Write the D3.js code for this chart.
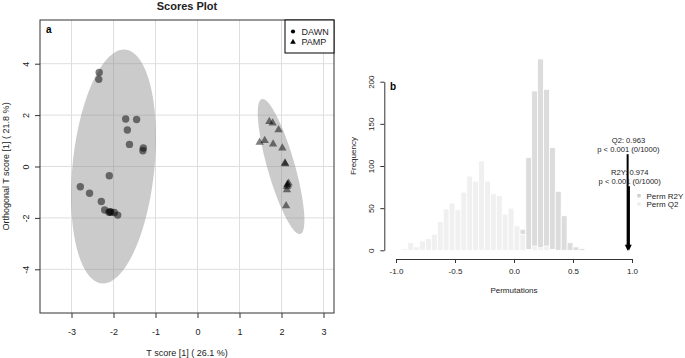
<!DOCTYPE html>
<html>
<head>
<meta charset="utf-8">
<script src="https://cdn.jsdelivr.net/npm/d3@7"></script>
<style>
  body { margin: 0; background: #fff; }
  svg { display: block; font-family: 'Liberation Sans', Arial, sans-serif; }
</style>
</head>
<body>
<div id="chart"></div>
<script>
/* global d3 */

// ---- panel a: scores ----
const groups = ['DAWN', 'PAMP'];
const dawnT = [-2.34, -2.35, -1.71, -1.45, -1.67, -1.62, -1.29, -1.30, -2.10, -2.79, -2.57, -2.29, -2.21, -2.11, -2.06, -1.98, -1.90, -2.08];
const dawnOrtho = [3.66, 3.39, 1.85, 1.83, 1.42, 0.86, 0.72, 0.61, -0.36, -0.79, -1.04, -1.36, -1.69, -1.78, -1.78, -1.79, -1.89, -1.76];
const pampT = [1.71, 1.79, 1.93, 1.48, 1.60, 1.80, 2.02, 2.08, 2.09, 2.14, 2.17, 2.13, 2.15, 2.13, 2.11];
const pampOrtho = [1.75, 1.69, 1.43, 0.94, 1.01, 0.87, 0.72, 0.13, 0.10, -0.69, -0.65, -0.78, -0.72, -0.91, -1.53];
// confidence ellipses: centre and covariance (sxx, sxy, syy)
const ellipseCentres = [[-2.0, 0.0], [1.99, 0.0]];
const ellipseCovs = [[1.02, 1.14, 20.7], [0.308, -1.157, 6.9]];
const scoreTicksX = [-3, -2, -1, 0, 1, 2, 3];
const scoreTicksY = [-4, -2, 0, 2, 4];

// ---- panel b: permutation histogram ----
const q2Bins = [-0.95, -0.90, -0.85, -0.80, -0.75, -0.70, -0.65, -0.60, -0.55, -0.50, -0.45, -0.40, -0.35, -0.30, -0.25, -0.20, -0.15, -0.10, -0.05, 0.00, 0.05, 0.10, 0.15, 0.20, 0.25, 0.30];
const q2Counts = [2, 9, 4, 11, 14, 19, 34, 49, 56, 48, 69, 88, 82, 106, 82, 67, 65, 43, 50, 29, 19, 1, 5, 3, 5, 1];
const r2yBins = [0.00, 0.05, 0.10, 0.15, 0.20, 0.25, 0.30, 0.35, 0.40, 0.45, 0.50, 0.55];
const r2yCounts = [3, 25, 110, 189, 227, 191, 122, 70, 41, 9, 4, 2];
const binWidth = 0.05;
const permTicksX = [-1.0, -0.5, 0.0, 0.5, 1.0];
const permTicksY = [0, 50, 100, 150, 200];
const statNames = ['Q2', 'R2Y'];
const statValues = [0.963, 0.974];
const statArrowTop = [114, 76];
const permLegend = ['Perm R2Y', 'Perm Q2'];

const AXIS = '#333';
const TEXT = '#222';

const svg = d3.select('#chart').append('svg').attr('width', 685).attr('height', 358);

// ================= panel a =================
const xA = d3.scaleLinear().domain([-3.75, 3.25]).range([40, 334]);
const yA = d3.scaleLinear().domain([-5.7, 5.7]).range([313, 20]);
const $a = svg.append('g').attr('class', 'panel-a');

svg.append('text')
  .attr('x', (xA.range()[0] + xA.range()[1]) / 2)
  .attr('y', 10)
  .attr('text-anchor', 'middle')
  .style('font-size', '11px')
  .style('font-weight', 'bold')
  .attr('fill', TEXT)
  .text('Scores Plot');

// grid
$a.append('g').selectAll('line')
  .data(scoreTicksX)
  .join('line')
  .attr('x1', d => xA(d)).attr('x2', d => xA(d))
  .attr('y1', yA.range()[0]).attr('y2', yA.range()[1])
  .attr('stroke', '#dedede');
$a.append('g').selectAll('line')
  .data(scoreTicksY)
  .join('line')
  .attr('y1', d => yA(d)).attr('y2', d => yA(d))
  .attr('x1', xA.range()[0]).attr('x2', xA.range()[1])
  .attr('stroke', '#dedede');

function ellipsePath(c, cov) {
  const [sxx, sxy, syy] = cov;
  const l11 = Math.sqrt(sxx);
  const l21 = sxy / l11;
  const l22 = Math.sqrt(syy - l21 * l21);
  const pts = d3.range(0, 360, 3).map(deg => {
    const t = (deg * Math.PI) / 180;
    return [c[0] + l11 * Math.cos(t), c[1] + l21 * Math.cos(t) + l22 * Math.sin(t)];
  });
  return d3.line().x(p => xA(p[0])).y(p => yA(p[1])).curve(d3.curveLinearClosed)(pts);
}

$a.append('g').selectAll('path')
  .data(groups)
  .join('path')
  .attr('d', (d, i) => ellipsePath(ellipseCentres[i], ellipseCovs[i]))
  .attr('fill', 'rgb(140,140,140)')
  .attr('fill-opacity', 0.45);

// points
$a.append('g').selectAll('circle')
  .data(dawnT)
  .join('circle')
  .attr('cx', d => xA(d))
  .attr('cy', (d, i) => yA(dawnOrtho[i]))
  .attr('r', 3.7)
  .attr('fill', '#000')
  .attr('fill-opacity', 0.5);

const tri = d3.symbol(d3.symbolTriangle, 30);
$a.append('g').selectAll('path')
  .data(pampT)
  .join('path')
  .attr('d', tri)
  .attr('transform', (d, i) => `translate(${xA(d)},${yA(pampOrtho[i])})`)
  .attr('fill', '#000')
  .attr('fill-opacity', 0.5);

// box
$a.append('rect')
  .attr('x', xA.range()[0]).attr('y', yA.range()[1])
  .attr('width', xA.range()[1] - xA.range()[0])
  .attr('height', yA.range()[0] - yA.range()[1])
  .attr('fill', 'none')
  .attr('stroke', AXIS);

// axes
const axisAX = $a.append('g')
  .attr('transform', `translate(0,${yA.range()[0]})`)
  .call(d3.axisBottom(xA).tickValues(scoreTicksX).tickSize(5).tickSizeOuter(0).tickFormat(d => String(d)));
axisAX.select('.domain').remove();
axisAX.selectAll('line').attr('stroke', AXIS);
axisAX.selectAll('text')
  .attr('y', 22).attr('dy', 0)
  .attr('fill', TEXT)
  .style('font-size', '9px');

const axisAY = $a.append('g')
  .attr('transform', `translate(${xA.range()[0]},0)`)
  .call(d3.axisLeft(yA).tickValues(scoreTicksY).tickSize(5).tickSizeOuter(0).tickFormat(d => String(d)));
axisAY.select('.domain').remove();
axisAY.selectAll('line').attr('stroke', AXIS);
axisAY.selectAll('text')
  .attr('x', 0).attr('dy', 0).attr('y', 0)
  .attr('text-anchor', 'middle')
  .attr('transform', 'translate(-11.5,0) rotate(-90)')
  .attr('fill', TEXT)
  .style('font-size', '9px');

$a.append('text')
  .attr('x', (xA.range()[0] + xA.range()[1]) / 2)
  .attr('y', 356)
  .attr('text-anchor', 'middle')
  .attr('fill', TEXT)
  .style('font-size', '9px')
  .text('T score [1] ( 26.1 %)');

$a.append('text')
  .attr('transform', `translate(8.5,${yA(0)}) rotate(-90)`)
  .attr('text-anchor', 'middle')
  .attr('fill', TEXT)
  .style('font-size', '9px')
  .text('Orthogonal T score [1] ( 21.8 %)');

$a.append('text')
  .attr('x', 46).attr('y', 33)
  .style('font-size', '10px')
  .style('font-weight', 'bold')
  .attr('fill', '#000')
  .text('a');

// legend
const $legA = $a.append('g').attr('transform', `translate(${xA.range()[1] - 49},${yA.range()[1]})`);
$legA.append('rect')
  .attr('width', 49).attr('height', 33)
  .attr('fill', '#fff')
  .attr('stroke', '#000');
const $legItem = $legA.selectAll('g')
  .data(groups)
  .join('g')
  .attr('transform', (d, i) => `translate(8,${11.5 + i * 10.5})`);
$legItem.append('path')
  .attr('d', (d, i) => (i === 0 ? d3.symbol(d3.symbolCircle, 14)() : d3.symbol(d3.symbolTriangle, 14)()))
  .attr('fill', '#000');
$legItem.append('text')
  .attr('x', 8.5).attr('y', 3.3)
  .attr('fill', TEXT)
  .style('font-size', '9px')
  .text(d => d);

// ================= panel b =================
const xB = d3.scaleLinear().domain([-1, 1]).range([396, 632]);
const yB = d3.scaleLinear().domain([0, 200]).range([250.3, 81.7]);
const $b = svg.append('g').attr('class', 'panel-b');

$b.append('g').selectAll('rect')
  .data(r2yBins)
  .join('rect')
  .attr('x', d => xB(d))
  .attr('width', xB(binWidth) - xB(0))
  .attr('y', (d, i) => yB(r2yCounts[i]))
  .attr('height', (d, i) => yB(0) - yB(r2yCounts[i]))
  .attr('fill', '#dcdcdc')
  .attr('stroke', '#fff')
  .attr('stroke-width', 0.8);

$b.append('g').selectAll('rect')
  .data(q2Bins)
  .join('rect')
  .attr('x', d => xB(d))
  .attr('width', xB(binWidth) - xB(0))
  .attr('y', (d, i) => yB(q2Counts[i]))
  .attr('height', (d, i) => yB(0) - yB(q2Counts[i]))
  .attr('fill', '#f0f0f0')
  .attr('stroke', '#fff')
  .attr('stroke-width', 0.8);

// axes
const axisBX = $b.append('g')
  .attr('transform', 'translate(0,259)')
  .call(d3.axisBottom(xB).tickValues(permTicksX).tickSize(4).tickSizeOuter(0).tickFormat(d => d.toFixed(1)));
axisBX.select('.domain').attr('stroke', AXIS);
axisBX.selectAll('line').attr('stroke', AXIS);
axisBX.selectAll('text')
  .attr('y', 15).attr('dy', 0)
  .attr('fill', TEXT)
  .style('font-size', '8px');

const axisBY = $b.append('g')
  .attr('transform', 'translate(384.3,0)')
  .call(d3.axisLeft(yB).tickValues(permTicksY).tickSize(4).tickSizeOuter(0).tickFormat(d => String(d)));
axisBY.select('.domain').attr('stroke', AXIS);
axisBY.selectAll('line').attr('stroke', AXIS);
axisBY.selectAll('text')
  .attr('x', 0).attr('dy', 0).attr('y', 0)
  .attr('text-anchor', 'middle')
  .attr('transform', 'translate(-10.3,0) rotate(-90)')
  .attr('fill', TEXT)
  .style('font-size', '8px');

$b.append('text')
  .attr('x', xB(0)).attr('y', 293)
  .attr('text-anchor', 'middle')
  .attr('fill', TEXT)
  .style('font-size', '8px')
  .text('Permutations');

$b.append('text')
  .attr('transform', 'translate(356,156) rotate(-90)')
  .attr('text-anchor', 'middle')
  .attr('fill', TEXT)
  .style('font-size', '8px')
  .text('Frequency');

$b.append('text')
  .attr('x', 390).attr('y', 90)
  .style('font-size', '10px')
  .style('font-weight', 'bold')
  .attr('fill', '#000')
  .text('b');

// observed statistic arrows
const HEAD = 6;
const $stat = $b.selectAll('g.stat')
  .data(statNames)
  .join('g')
  .attr('class', 'stat');
$stat.append('line')
  .attr('x1', (d, i) => xB(statValues[i])).attr('x2', (d, i) => xB(statValues[i]))
  .attr('y1', (d, i) => yB(statArrowTop[i]))
  .attr('y2', yB(0) - HEAD + 1)
  .attr('stroke', '#000')
  .attr('stroke-width', 2);
$stat.append('path')
  .attr('d', (d, i) => {
    const x = xB(statValues[i]);
    const y = yB(0) + 0.5;
    return `M${x - 2.8},${y - HEAD}L${x + 2.8},${y - HEAD}L${x},${y}Z`;
  })
  .attr('fill', '#000');
$stat.append('text')
  .attr('x', (d, i) => xB(statValues[i]) + 0.8)
  .attr('y', (d, i) => yB(statArrowTop[i]) - 11)
  .attr('text-anchor', 'middle')
  .attr('fill', TEXT)
  .style('font-size', '7.6px')
  .text((d, i) => `${d}: ${statValues[i]}`);
$stat.append('text')
  .attr('x', (d, i) => xB(statValues[i]) + 0.8)
  .attr('y', (d, i) => yB(statArrowTop[i]) - 2)
  .attr('text-anchor', 'middle')
  .attr('fill', TEXT)
  .style('font-size', '7.6px')
  .text('p < 0.001 (0/1000)');

// legend b
const $legB = $b.selectAll('g.leg')
  .data(permLegend)
  .join('g')
  .attr('class', 'leg')
  .attr('transform', (d, i) => `translate(639,${195.7 + i * 8.4})`);
$legB.append('rect')
  .attr('x', -1.7).attr('y', -1.7)
  .attr('width', 3.4).attr('height', 3.4)
  .attr('fill', (d, i) => (i === 0 ? '#d0d0d0' : '#ececec'));
$legB.append('text')
  .attr('x', 7.5).attr('y', 3)
  .attr('fill', TEXT)
  .style('font-size', '8px')
  .text(d => d);
</script>
</body>
</html>
